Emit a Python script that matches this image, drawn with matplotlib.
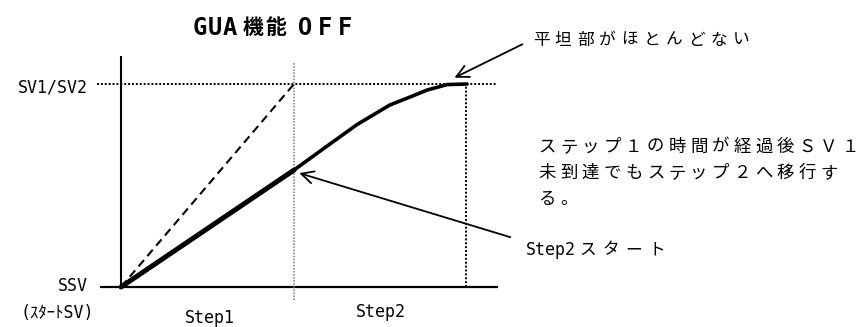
import matplotlib
matplotlib.use("Agg")
import matplotlib.pyplot as plt

plt.rcParams['font.family'] = ['Noto Sans CJK JP', 'DejaVu Sans']
MONO = ['DejaVu Sans Mono', 'Noto Sans CJK JP']
CJK = ['Noto Sans CJK JP', 'DejaVu Sans']

# ---- data (time in steps, value normalised SSV=0, SV=1) ----
step1_t = [0.0, 1.0]
step1_v = [0.0, 0.576]
step2_t = [1.0, 1.168, 1.364, 1.555, 1.671, 1.769, 1.884, 2.0]
step2_v = [0.576, 0.680, 0.800, 0.897, 0.936, 0.970, 0.997, 1.0]
ideal_t = [0.0, 1.0]
ideal_v = [0.0, 1.0]

title_parts = ["GUA", "機能", "OFF"]
y_labels = ["SV1/SV2", "SSV"]
ssv_note = "(ｽﾀｰﾄSV)"
step_labels = ["Step1", "Step2"]
note_flat = "平坦部がほとんどない"
note_lines = ["ステップ１の時間が経過後ＳＶ１", "未到達でもステップ２へ移行す", "る。"]
note_start_a = "Step2"
note_start_b = "スタート"

W, H = 865, 327
fig = plt.figure(figsize=(W / 100, H / 100), dpi=100)
ax = fig.add_axes([0, 0, 1, 1])
ax.set_axis_off()
# map: t=0 -> px 121, t=1 -> px 294 ; v=0 -> py 287, v=1 -> py 84
x0, sx = 121, 173.0
y0, sy = 287, 203.0
ax.set_xlim(-x0 / sx, (W - x0) / sx)
ax.set_ylim((y0 - H) / sy, y0 / sy)


def fp(x, y):
    return (x / W, 1 - y / H)


def spaced(x, y, s, pitch, **kw):
    for i, ch in enumerate(s):
        if ch == ' ':
            continue
        fx, fy = fp(x + i * pitch, y)
        fig.text(fx, fy, ch, ha='center', va='center', **kw)


# axes lines
ax.plot([0, 0], [0, 1.138], color='black', lw=1.5, solid_capstyle='butt')
ax.plot([-0.121, 2.179], [0, 0], color='black', lw=1.6, solid_capstyle='butt')
# SV line dotted
ax.plot([-0.139, 2.173], [1, 1], color='black', lw=1.4, ls=(0, (1, 1)))
# step boundaries
ax.plot([1.0, 1.0], [-0.064, 1.108], color='#777777', lw=1.1, ls=(0, (1, 1)))
ax.plot([1.995, 1.995], [0, 1.0], color='black', lw=1.4, ls=(0, (1, 1)))

# ideal ramp (dashed)
ax.plot(ideal_t, ideal_v, color='black', lw=1.5, ls=(0, (4, 2.5)))
# actual PV
ax.plot(step1_t, step1_v, color='black', lw=3.6, solid_capstyle='round')
ax.plot(step2_t, step2_v, color='black', lw=2.6, solid_capstyle='round',
        solid_joinstyle='round')

# title
spaced(200, 28, title_parts[0], 15.0, fontsize=17, fontweight='bold', family=MONO)
spaced(253, 28, title_parts[1], 23.0, fontsize=15, fontweight='bold', family=CJK)
spaced(305, 28, title_parts[2], 20.0, fontsize=17, fontweight='bold', family=MONO)

fig.text(*fp(88, 87), y_labels[0], ha='right', va='center', fontsize=12, family=MONO)
fig.text(*fp(88, 286), y_labels[1], ha='right', va='center', fontsize=12, family=MONO)
fig.text(*fp(57, 313), ssv_note, ha='center', va='center', fontsize=12, family=MONO)
fig.text(*fp(210, 318), step_labels[0], ha='center', va='center', fontsize=12, family=MONO)
fig.text(*fp(381, 312), step_labels[1], ha='center', va='center', fontsize=12, family=MONO)

spaced(541, 40, note_flat, 22.2, fontsize=12, family=CJK)
for k, line in enumerate(note_lines):
    spaced(547, 147 + k * 26, line, 21.7, fontsize=12.5, family=CJK)
fig.text(*fp(551, 250), note_start_a, ha='center', va='center', fontsize=12, family=MONO)
spaced(588, 250, note_start_b, 23.0, fontsize=12, family=CJK)

# arrows
arrow_kw = dict(arrowstyle='->', color='black', lw=1.3, mutation_scale=22)
ax.annotate('', xy=(1.913, 1.025), xycoords='data',
            xytext=fp(525, 43), textcoords='figure fraction', arrowprops=arrow_kw)
ax.annotate('', xy=(1.015, 0.565), xycoords='data',
            xytext=fp(513, 238), textcoords='figure fraction', arrowprops=arrow_kw)

fig.savefig('out.png', dpi=100)
